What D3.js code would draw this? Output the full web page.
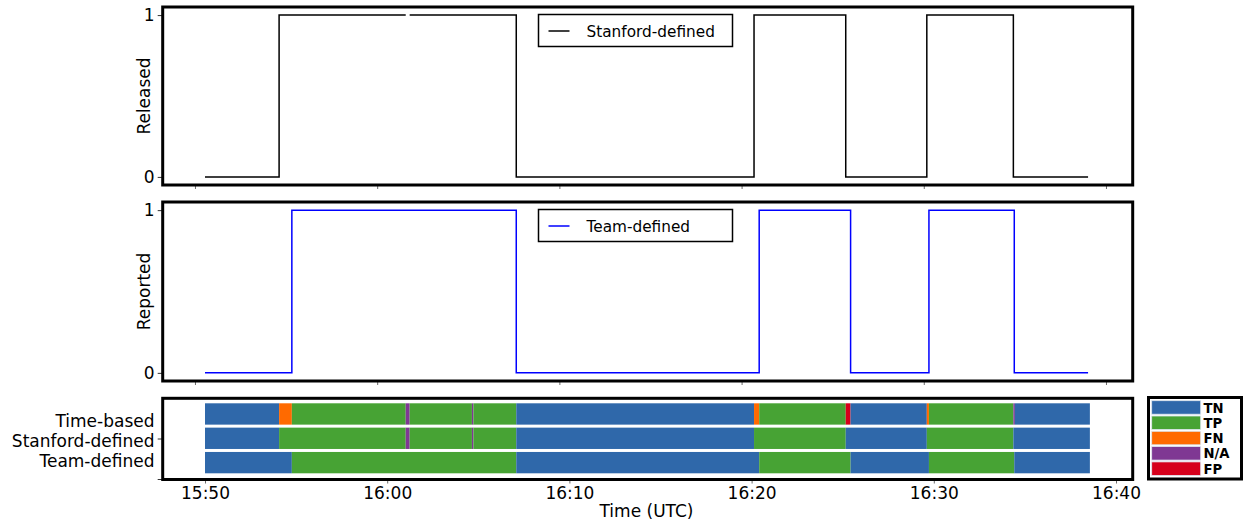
<!DOCTYPE html>
<html>
<head>
<meta charset="utf-8">
<script src="https://cdn.jsdelivr.net/npm/d3@7"></script>
<style>
  html, body { margin: 0; padding: 0; background: #fff; }
  svg { display: block; font-family: "DejaVu Sans", sans-serif; }
</style>
</head>
<body>
<svg id="chart" width="1244" height="524"></svg>
<script>
// ---------------- data ----------------
const releasedTimes  = ["15:50:00","15:54:04","16:01:01","16:01:01","16:01:14","16:07:05","16:20:08","16:25:10","16:29:37","16:34:22","16:38:28"];
const releasedValues = [0, 1, 1, null, 1, 0, 1, 0, 1, 0, 0];

const reportedTimes  = ["15:50:00","15:54:46","16:07:05","16:20:25","16:25:26","16:29:44","16:34:25","16:38:28"];
const reportedValues = [0, 1, 0, 1, 0, 1, 0, 0];

const rowLabels = ["Time-based", "Stanford-defined", "Team-defined"];

const timeBasedBounds  = ["15:50:00","15:54:04","15:54:46","16:01:01","16:01:14","16:04:39","16:04:44","16:07:05","16:20:08","16:20:25","16:25:10","16:25:26","16:29:37","16:29:44","16:34:22","16:34:27","16:38:34"];
const timeBasedClasses = ["TN","FN","TP","N/A","TP","N/A","TP","TN","FN","TP","FP","TN","FN","TP","N/A","TN"];

const stanfordBounds  = ["15:50:00","15:54:04","16:01:01","16:01:14","16:04:39","16:04:44","16:07:05","16:20:08","16:25:10","16:29:37","16:34:22","16:38:34"];
const stanfordClasses = ["TN","TP","N/A","TP","N/A","TP","TN","TP","TN","TP","TN"];

const teamBounds  = ["15:50:00","15:54:46","16:07:05","16:20:25","16:25:26","16:29:44","16:34:25","16:38:34"];
const teamClasses = ["TN","TP","TN","TP","TN","TP","TN"];

const classNames  = ["TN","TP","FN","N/A","FP"];
const classColors = ["#2f68aa","#47a334","#ff6a00","#7f3893","#d6001b"];

const xTickTimes   = ["15:50:00","16:00:00","16:10:00","16:20:00","16:30:00","16:40:00"];
const topTickTimes = ["15:49:27","15:59:27","16:09:27","16:19:27","16:29:27","16:39:27"];
const yTickValues  = [0, 1];

// ---------------- setup ----------------
const parse = d3.utcParse("%H:%M:%S");
const svg = d3.select("#chart");
const FONT = 17;

const x = d3.scaleUtc()
  .domain([parse("15:50:00"), parse("16:40:00")])
  .range([205, 1116]);
const frameL = 162.7, frameR = 1132.7;

const color = d3.scaleOrdinal().domain(classNames).range(classColors);

// ---------------- step panels ----------------
function stepPanel(top, bottom, times, values, stroke, yLabel, legendLabel) {
  const y = d3.scaleLinear().domain([-0.05, 1.05]).range([bottom, top]);
  const g = svg.append("g");
  const pts = times.map((t, i) => ({ t: parse(t), v: values[i] }));
  const line = d3.line()
    .defined(d => d.v !== null)
    .x(d => x(d.t)).y(d => y(d.v))
    .curve(d3.curveStepAfter);
  g.append("path").datum(pts)
    .attr("d", line)
    .attr("fill", "none")
    .attr("stroke", stroke)
    .attr("stroke-width", 1.5);

  // y axis ticks
  const ya = g.append("g").attr("transform", `translate(${frameL},0)`)
    .call(d3.axisLeft(y).tickValues(yTickValues).tickFormat(d3.format("d")).tickSize(5).tickPadding(3));
  ya.select(".domain").remove();
  ya.selectAll("line").attr("stroke", "#000").attr("stroke-width", 0.8);
  ya.selectAll("text").attr("font-size", FONT).attr("font-family", "DejaVu Sans").attr("fill", "#000");

  // x ticks (no labels)
  const xTop = d3.scaleUtc().domain(x.domain()).range(x.range());
  const xa = g.append("g").attr("transform", `translate(0,${bottom})`)
    .call(d3.axisBottom(xTop).tickValues(topTickTimes.map(parse)).tickFormat("").tickSize(4));
  xa.select(".domain").remove();
  xa.selectAll("line").attr("stroke", "#444").attr("stroke-width", 0.8);

  // frame
  g.append("rect").attr("x", frameL).attr("y", top).attr("width", frameR - frameL).attr("height", bottom - top)
    .attr("fill", "none").attr("stroke", "#000").attr("stroke-width", 3);

  // y label
  g.append("text")
    .attr("transform", `translate(150,${(top + bottom) / 2}) rotate(-90)`)
    .attr("text-anchor", "middle")
    .attr("font-size", FONT)
    .text(yLabel);

  // legend
  const lg = g.append("g").attr("transform", `translate(538.5,${top + 7.5})`);
  lg.append("rect").attr("width", 194).attr("height", 32)
    .attr("fill", "#fff").attr("stroke", "#000").attr("stroke-width", 1.5);
  lg.append("line").attr("x1", 10).attr("x2", 31).attr("y1", 16.5).attr("y2", 16.5)
    .attr("stroke", stroke).attr("stroke-width", 1.5);
  lg.append("text").attr("x", 48).attr("y", 22.5).attr("font-size", 15.3).text(legendLabel);
}

stepPanel(7, 185, releasedTimes, releasedValues, "#000", "Released", "Stanford-defined");
stepPanel(202, 381, reportedTimes, reportedValues, "#0000ff", "Reported", "Team-defined");

// ---------------- classification panel ----------------
const bTop = 398.3, bBottom = 479.5;
const yRow = d3.scaleBand().domain(rowLabels).range([403.3, 473.3]).paddingInner(0.123).paddingOuter(0);

const rows = [
  { label: rowLabels[0], bounds: timeBasedBounds, classes: timeBasedClasses },
  { label: rowLabels[1], bounds: stanfordBounds, classes: stanfordClasses },
  { label: rowLabels[2], bounds: teamBounds, classes: teamClasses }
];
const segs = [];
rows.forEach(r => {
  r.classes.forEach((c, i) => {
    segs.push({ row: r.label, cls: c, t0: parse(r.bounds[i]), t1: parse(r.bounds[i + 1]) });
  });
});

const bg = svg.append("g");
bg.selectAll("rect.seg").data(segs).enter().append("rect")
  .attr("class", "seg")
  .attr("x", d => x(d.t0))
  .attr("width", d => Math.max(0.8, x(d.t1) - x(d.t0)))
  .attr("y", d => yRow(d.row))
  .attr("height", yRow.bandwidth())
  .attr("fill", d => color(d.cls));

// x axis with labels
const xa = bg.append("g").attr("transform", `translate(0,${bBottom})`)
  .call(d3.axisBottom(x).tickValues(xTickTimes.map(parse)).tickFormat(d3.utcFormat("%H:%M")).tickSize(4).tickPadding(3));
xa.select(".domain").remove();
xa.selectAll("line").attr("stroke", "#444").attr("stroke-width", 0.8);
xa.selectAll("text").attr("font-size", FONT).attr("font-family", "DejaVu Sans").attr("fill", "#000")
  .attr("dy", null).attr("y", 19);

// y ticks (middle and bottom)
bg.append("line").attr("x1", frameL - 5).attr("x2", frameL).attr("y1", 439).attr("y2", 439).attr("stroke", "#000").attr("stroke-width", 0.8);
bg.append("line").attr("x1", frameL - 5).attr("x2", frameL).attr("y1", bBottom).attr("y2", bBottom).attr("stroke", "#000").attr("stroke-width", 0.8);

// multi-line row label
const lab = bg.append("text").attr("text-anchor", "end").attr("font-size", FONT);
rowLabels.forEach((l, i) => {
  lab.append("tspan").attr("x", 154.5).attr("y", 427.4 + i * 19.6).text(l);
});

// frame
bg.append("rect").attr("x", frameL).attr("y", bTop).attr("width", frameR - frameL).attr("height", bBottom - bTop)
  .attr("fill", "none").attr("stroke", "#000").attr("stroke-width", 3);

// x label
svg.append("text").attr("x", 646.5).attr("y", 517).attr("text-anchor", "middle")
  .attr("font-size", FONT).text("Time (UTC)");

// ---------------- class legend ----------------
const leg = svg.append("g").attr("transform", "translate(1148.5,397.5)");
leg.append("rect").attr("width", 93).attr("height", 81.5)
  .attr("fill", "#fff").attr("stroke", "#000").attr("stroke-width", 3);
classNames.forEach((c, i) => {
  const yy = 3.2 + i * 15.3;
  leg.append("rect").attr("x", 3.2).attr("y", yy).attr("width", 49).attr("height", 13.5)
    .attr("fill", color(c)).attr("stroke", "#dde6ee").attr("stroke-width", 0.8);
  leg.append("text").attr("x", 55).attr("y", yy + 11.8)
    .attr("font-size", 13.2).attr("font-weight", "bold").text(c);
});
</script>
</body>
</html>
